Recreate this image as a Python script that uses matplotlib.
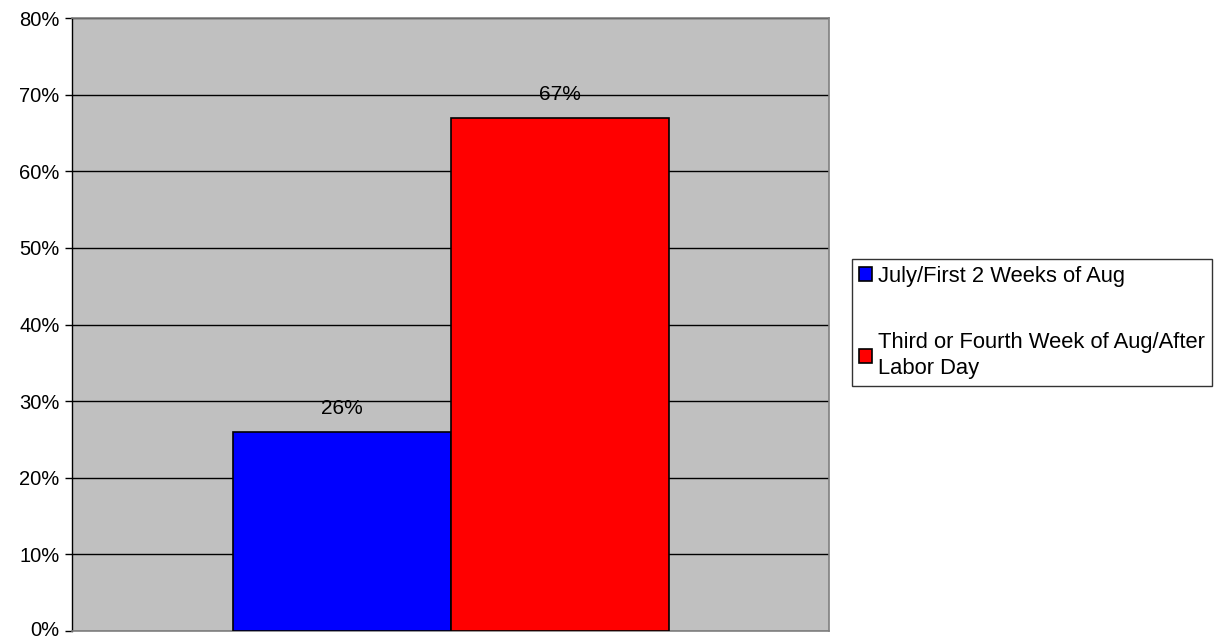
import numpy as np
from matplotlib import pyplot as plt
from matplotlib import transforms

plt.rcParams['font.family'] = ['Liberation Sans', 'DejaVu Sans']

series = ['July/First 2 Weeks of Aug', 'Third or Fourth Week of Aug/After\nLabor Day']
values = [26, 67]
colors = ['#0000FF', '#FF0000']
yticks = [0, 10, 20, 30, 40, 50, 60, 70, 80]

fig = plt.figure(figsize=(12.27, 6.39), dpi=100)
ax = fig.add_axes([72 / 1227, 8 / 639, 757 / 1227, 613 / 639])
ax.set_facecolor('#C0C0C0')

width = 0.288
center = 0.501
offsets = [-width / 2, width / 2]
for name, val, col, off in zip(series, values, colors, offsets):
    ax.bar(center + off, val, width=width, color=col, edgecolor='black',
           linewidth=1.2, label=name, zorder=3)
    ax.annotate(f'{val}%', (center + off, val), xytext=(0, 17), textcoords='offset points',
                ha='center', va='center', fontsize=15, zorder=4)

ax.set_xlim(0, 1)
ax.set_ylim(0, 80)
ax.set_yticks(yticks)
ax.set_yticklabels([f'{t}%' for t in yticks], fontsize=14.5)
ax.set_xticks([])
ax.tick_params(axis='y', direction='out', length=5, width=1, pad=4)
ax.yaxis.grid(True, color='black', linewidth=1)
ax.set_axisbelow(True)

# nudge the bottom label up a little so it stays inside the figure
fig.canvas.draw()
lbl0 = ax.get_yticklabels()[0]
lbl0.set_transform(lbl0.get_transform() + transforms.ScaledTranslation(0, 3 / 100, fig.dpi_scale_trans))

for side in ['top', 'right', 'bottom']:
    ax.spines[side].set_color('#808080')
    ax.spines[side].set_linewidth(1.2)
ax.spines['left'].set_color('black')
ax.spines['left'].set_linewidth(1)

leg = fig.legend(loc='upper left', bbox_to_anchor=(852 / 1227, 1 - 259 / 639),
                 fontsize=15.8, frameon=True, fancybox=False, edgecolor='black',
                 handlelength=0.6, handleheight=0.6, handletextpad=0.3,
                 labelspacing=2.05, borderpad=0.3, borderaxespad=0)
leg.get_frame().set_linewidth(1)
for t in leg.get_texts():
    t.set_linespacing(1.35)

fig.savefig('out.png', dpi=100)
